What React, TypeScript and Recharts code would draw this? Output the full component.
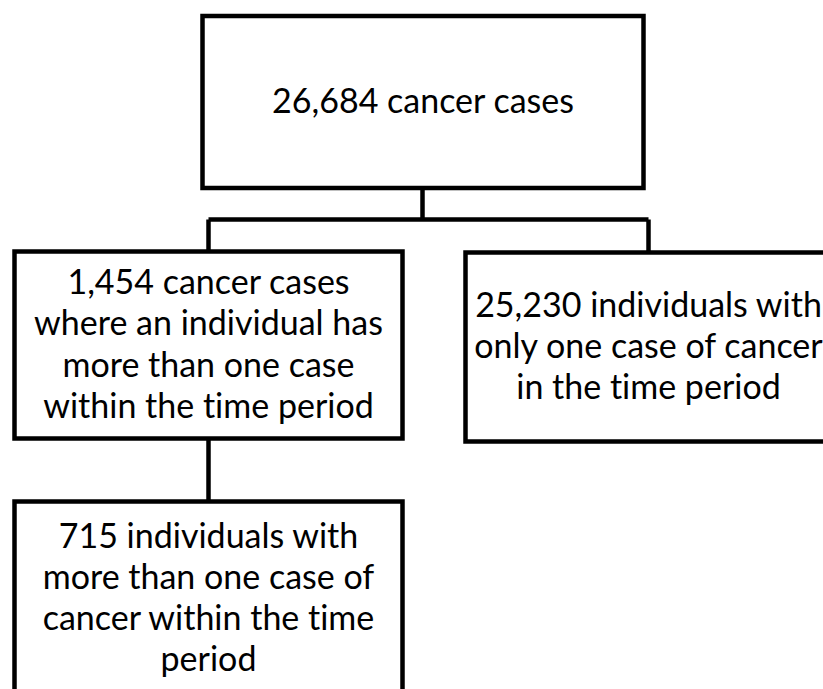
import { ComposedChart, XAxis, YAxis, ReferenceArea, ReferenceLine } from "recharts";

// counts shown in each box
const caseCounts = [26684, 1454, 25230, 715];
// rest of the text after the count, line by line
const boxText = [
  ["cancer cases"],
  ["cancer cases", "where an individual has", "more than one case", "within the time period"],
  ["individuals with", "only one case of cancer", "in the time period"],
  ["individuals with", "more than one case of", "cancer within the time", "period"],
];

// box layout in page pixels [x1, x2, y1, y2]
const boxes = [
  [202.5, 643.5, 16, 188],
  [14.5, 402.5, 251.5, 438.5],
  [465.5, 831.5, 252.5, 441.5],
  [14.5, 402.5, 501.5, 695.5],
];

// connector segments [x1, y1, x2, y2]
const links = [
  [422.5, 188, 422.5, 219.5],
  [208.5, 219.5, 648.5, 219.5],
  [208.5, 219.5, 208.5, 251.5],
  [648.5, 219.5, 648.5, 252.5],
  [208.5, 438.5, 208.5, 501.5],
];

const FONT = "Lato, sans-serif";
const FS = 34;
const LINE_H = 41.3;
const W = 823;
const H = 689;

const linesFor = (i: number) => {
  const rest = boxText[i];
  const first = `${caseCounts[i].toLocaleString("en-US")} ${rest[0]}`;
  return [first, ...rest.slice(1)];
};

const makeLabel = (i: number) => (props: any) => {
  const vb = props.viewBox || {};
  const cx = vb.x + vb.width / 2;
  const cy = vb.y + vb.height / 2;
  const lines = linesFor(i);
  const n = lines.length;
  return (
    <text
      textAnchor="middle"
      fontFamily={FONT}
      fontSize={FS}
      fill="#000"
      style={{ fontVariantLigatures: "none", fontFeatureSettings: '"liga" 0' }}
    >
      {lines.map((l, k) => (
        <tspan key={k} x={cx} y={cy + (k - (n - 1) / 2) * LINE_H + 11}>
          {l}
        </tspan>
      ))}
    </text>
  );
};

export default function App() {
  return (
    <div style={{ position: "absolute", left: 0, top: 0, width: W, height: H, background: "#fff" }}>
      <ComposedChart width={W} height={H} data={[]} margin={{ top: 0, right: 0, bottom: 0, left: 0 }}>
        <XAxis type="number" dataKey="x" domain={[0, W]} allowDataOverflow hide />
        <YAxis type="number" dataKey="y" domain={[0, H]} allowDataOverflow reversed hide />
        {links.map((s, i) => (
          <ReferenceLine
            key={`l${i}`}
            segment={[{ x: s[0], y: s[1] }, { x: s[2], y: s[3] }]}
            stroke="#000"
            strokeWidth={4.5}
            ifOverflow="visible"
          />
        ))}
        {boxes.map((b, i) => (
          <ReferenceArea
            key={`b${i}`}
            x1={b[0]}
            x2={b[1]}
            y1={b[2]}
            y2={b[3]}
            fill="#fff"
            fillOpacity={1}
            stroke="#000"
            strokeWidth={4.5}
            ifOverflow="visible"
            label={makeLabel(i)}
          />
        ))}
      </ComposedChart>
    </div>
  );
}
